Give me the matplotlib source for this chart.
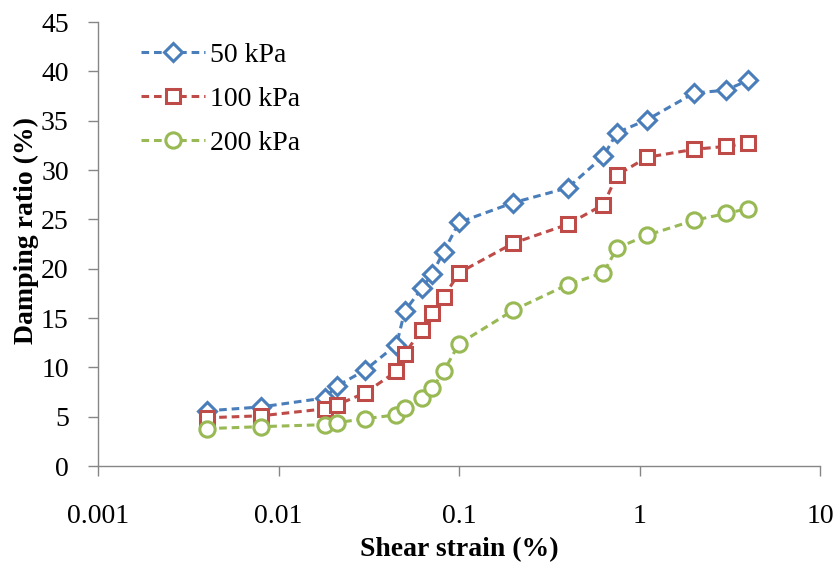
import matplotlib
matplotlib.use("Agg")
import matplotlib.pyplot as plt
from matplotlib.ticker import FixedLocator, FixedFormatter, NullLocator

plt.rcParams['font.family'] = ['Liberation Serif', 'DejaVu Serif']

# shear strain (%) - same test points for each confining pressure
strain = [0.004, 0.008, 0.018, 0.021, 0.030, 0.045, 0.050, 0.062, 0.071, 0.082,
          0.10, 0.20, 0.40, 0.63, 0.75, 1.1, 2.0, 3.0, 4.0]

# damping ratio (%)
d50 = [5.6, 6.0, 6.9, 8.1, 9.7, 12.3, 15.7, 18.0, 19.5, 21.7,
       24.7, 26.7, 28.2, 31.4, 33.8, 35.1, 37.8, 38.1, 39.1]
d100 = [4.9, 5.1, 5.8, 6.2, 7.4, 9.6, 11.4, 13.8, 15.5, 17.1,
        19.6, 22.6, 24.5, 26.5, 29.5, 31.3, 32.1, 32.4, 32.7]
d200 = [3.8, 4.0, 4.2, 4.4, 4.8, 5.2, 5.9, 6.9, 7.9, 9.6,
        12.4, 15.8, 18.4, 19.6, 22.1, 23.4, 24.9, 25.6, 26.1]

labels = ["50 kPa", "100 kPa", "200 kPa"]
xticks = [0.001, 0.01, 0.1, 1, 10]
xticklabels = ["0.001", "0.01", "0.1", "1", "10"]

fig = plt.figure(figsize=(8.37, 5.65), dpi=100)
ax = fig.add_axes([0.117, 0.175, 0.863, 0.786])

dash = (0, (2.5, 1.6))
lw = 2.2
ax.plot(strain, d50, color="#4A7EBB", ls=dash, lw=lw, marker="D", ms=9,
        mfc="white", mec="#4A7EBB", mew=lw, label=labels[0])
ax.plot(strain, d100, color="#BE4B48", ls=dash, lw=lw, marker="s", ms=10,
        mfc="white", mec="#BE4B48", mew=lw, label=labels[1])
ax.plot(strain, d200, color="#98B954", ls=dash, lw=lw, marker="o", ms=11,
        mfc="white", mec="#98B954", mew=lw, label=labels[2])

ax.set_xscale("log")
ax.set_xlim(0.001, 10)
ax.set_ylim(0, 45)
ax.xaxis.set_major_locator(FixedLocator(xticks))
ax.xaxis.set_major_formatter(FixedFormatter(xticklabels))
ax.xaxis.set_minor_locator(NullLocator())
ax.set_yticks(range(0, 46, 5))

for s in ["top", "right"]:
    ax.spines[s].set_visible(False)
for s in ["left", "bottom"]:
    ax.spines[s].set_color("#868686")
    ax.spines[s].set_linewidth(1.0)
ax.tick_params(axis="both", direction="out", length=7, width=1.0,
               color="#868686", labelsize=20)
ax.tick_params(axis="x", pad=20)
ax.tick_params(axis="y", pad=14)

ax.set_xlabel("Shear strain (%)", fontsize=20, fontweight="bold", labelpad=6)
ax.set_ylabel("Damping ratio (%)", fontsize=20, fontweight="bold")
ax.yaxis.set_label_coords(-0.081, 0.53)

ax.legend(loc="upper left", bbox_to_anchor=(0.025, 1.01), frameon=False,
          fontsize=20, handlelength=2.3, handletextpad=0.2, labelspacing=0.67,
          numpoints=1)

fig.savefig("out.png", dpi=100)
